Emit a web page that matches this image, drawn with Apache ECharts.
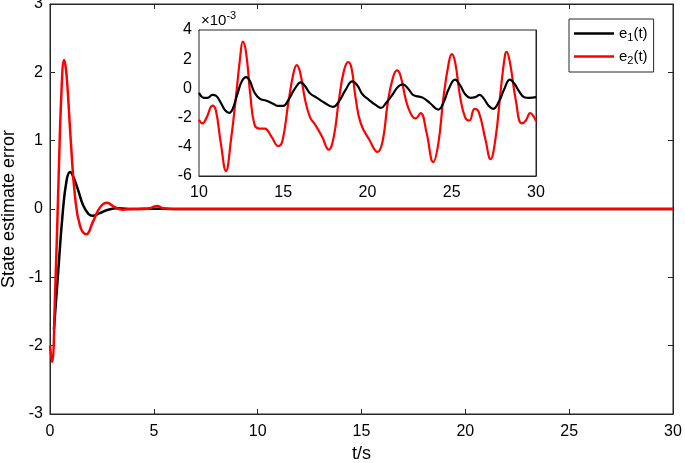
<!DOCTYPE html>
<html>
<head>
<meta charset="utf-8">
<script src="https://cdn.jsdelivr.net/npm/echarts@6/dist/echarts.min.js"></script>
<style>html,body{margin:0;padding:0;background:#fff}#c{width:685px;height:463px}</style>
</head>
<body>
<div id="c"></div>
<script>
// Main plot data
var mainT1 = [0.19,0.4,0.6,0.8,0.97,1.15,1.35,1.6,1.85,2.05,2.4,2.8,3.3,4.0,5.0,6.0,10,15,20,25,30];
var mainE1 = [-1.76,-0.9,-0.1,0.42,0.54,0.45,0.28,0.05,-0.07,-0.1,-0.06,-0.01,0.01,0,0.005,0,0,0,0,0,0];
var mainT2 = [0,0.1,0.25,0.4,0.55,0.68,0.8,1.0,1.2,1.45,1.75,2.05,2.4,2.75,3.1,3.5,4.0,4.6,4.9,5.15,5.45,6.0,10,15,20,25,30];
var mainE2 = [-2.0,-2.24,-1.2,0.3,1.7,2.18,1.95,1.0,0.2,-0.25,-0.37,-0.2,0.02,0.09,0.03,-0.01,0,0,0.02,0.045,0.01,0,0,0,0,0,0];
// Inset data (x10^-3)
var insetT1 = [10.0,10.3,10.5,10.8,11.0,11.3,11.55,11.8,12.0,12.3,12.55,12.8,13.0,13.3,13.6,14.0,14.4,14.7,15.0,15.3,15.7,16.05,16.3,16.6,17.0,17.4,17.95,18.3,18.7,19.1,19.4,19.7,20.1,20.5,20.8,21.1,21.5,21.8,22.1,22.4,22.7,23.0,23.3,23.7,24.2,24.5,24.8,25.2,25.5,25.8,26.1,26.4,26.65,26.9,27.2,27.45,27.8,28.1,28.45,28.7,29.0,29.3,29.6,30.0];
var insetE1 = [-0.3,-0.65,-0.65,-0.45,-0.5,-1.0,-1.5,-1.68,-1.4,-0.3,0.5,0.77,0.55,-0.3,-0.7,-0.85,-1.05,-1.2,-1.2,-0.8,0.0,0.41,0.15,-0.35,-0.65,-0.95,-1.27,-0.9,-0.1,0.48,0.2,-0.4,-0.8,-1.15,-1.34,-1.0,-0.4,0.1,0.27,0.0,-0.45,-0.55,-0.65,-1.0,-1.45,-1.0,-0.1,0.6,0.2,-0.4,-0.65,-0.6,-0.45,-0.7,-1.2,-1.4,-0.9,-0.1,0.6,0.35,-0.2,-0.6,-0.65,-0.6];
var insetT2 = [10.0,10.2,10.45,10.8,11.0,11.3,11.6,11.9,12.2,12.45,12.6,12.8,13.05,13.3,13.6,13.9,14.3,14.7,14.95,15.3,15.6,15.8,16.0,16.3,16.6,16.9,17.3,17.7,18.0,18.3,18.6,18.85,19.05,19.3,19.6,20.1,20.6,20.9,21.2,21.5,21.75,21.95,22.3,22.6,22.85,23.15,23.5,23.9,24.2,24.5,24.8,25.0,25.2,25.5,25.8,26.05,26.35,26.6,27.0,27.3,27.6,27.9,28.15,28.25,28.45,28.8,29.15,29.4,29.65,29.85,30.0];
var insetE2 = [-2.14,-2.4,-2.0,-1.18,-1.5,-3.8,-5.66,-3.5,-0.5,2.2,3.2,2.4,-0.5,-2.5,-2.75,-2.75,-3.3,-3.95,-3.6,-1.0,1.0,1.6,1.1,-0.8,-2.0,-2.5,-3.3,-4.2,-3.3,-0.8,1.2,1.8,1.4,-0.7,-2.4,-3.5,-4.35,-3.6,-1.0,0.7,1.23,0.9,-0.9,-1.8,-2.05,-1.7,-3.0,-5.05,-3.8,-0.7,1.6,2.35,1.8,-0.6,-2.0,-2.2,-1.4,-1.6,-3.5,-4.85,-3.4,-0.2,2.2,2.5,1.8,-0.8,-2.4,-2.2,-1.7,-1.9,-2.25];
var mainXTicks = [0,5,10,15,20,25,30];
var mainYTicks = [-3,-2,-1,0,1,2,3];
var seriesNames = ['e1','e2'];

function zip(a,b){return a.map(function(v,i){return [v,b[i]];});}

var AX = '#262626';
var FONT = 'Liberation Sans';
var TICKFS = 16;
function axisBase(extra){
  var o = {
    axisLine:{show:true,onZero:false,lineStyle:{color:AX,width:1}},
    axisTick:{show:true,inside:true,length:5,lineStyle:{color:AX}},
    axisLabel:{show:true,color:'#000',fontSize:TICKFS,fontFamily:FONT},
    splitLine:{show:false}
  };
  for (var k in extra) o[k]=extra[k];
  return o;
}
var chart = echarts.init(document.getElementById('c'),null,{renderer:'canvas'});
var option = {
  backgroundColor:'#fff',
  animation:false,
  grid:[
    {left:50,top:4,width:623,height:410,show:true,borderColor:AX,borderWidth:1,outerBoundsMode:'none'},
    {left:199,top:30,width:337,height:146,show:true,backgroundColor:'#fff',borderColor:AX,borderWidth:1,z:5,outerBoundsMode:'none'}
  ],
  xAxis:[
    axisBase({type:'value',gridIndex:0,min:mainXTicks[0],max:mainXTicks[mainXTicks.length-1],interval:5,position:'bottom',
      axisLabel:{color:'#000',fontSize:TICKFS,fontFamily:FONT,margin:10},
      name:'t/s',nameLocation:'middle',nameGap:27,nameTextStyle:{color:'#000',fontSize:18,fontFamily:FONT}}),
    axisBase({type:'value',gridIndex:0,min:0,max:30,interval:5,position:'top',axisLabel:{show:false}}),
    axisBase({type:'value',gridIndex:1,min:10,max:30,interval:5,position:'bottom',
      axisLabel:{color:'#000',fontSize:TICKFS,fontFamily:FONT,margin:9}}),
    axisBase({type:'value',gridIndex:1,min:10,max:30,interval:5,position:'top',axisLabel:{show:false}})
  ],
  yAxis:[
    axisBase({type:'value',gridIndex:0,min:mainYTicks[0],max:mainYTicks[mainYTicks.length-1],interval:1,position:'left',
      axisLabel:{color:'#000',fontSize:TICKFS,fontFamily:FONT,margin:7},
      name:'State estimate error',nameLocation:'middle',nameGap:26,nameTextStyle:{color:'#000',fontSize:18,fontFamily:FONT}}),
    axisBase({type:'value',gridIndex:0,min:-3,max:3,interval:1,position:'right',axisLabel:{show:false}}),
    axisBase({type:'value',gridIndex:1,min:-6,max:4,interval:2,position:'left',
      axisLabel:{color:'#000',fontSize:TICKFS,fontFamily:FONT,margin:7}}),
    axisBase({type:'value',gridIndex:1,min:-6,max:4,interval:2,position:'right',axisLabel:{show:false}})
  ],
  legend:{
    data:seriesNames,
    orient:'vertical',
    left:569, top:19,
    width:80,
    padding:[7,6,6,5],
    itemGap:6,
    itemWidth:40, itemHeight:2.5,
    icon:'rect',
    borderColor:AX, borderWidth:1,
    backgroundColor:'#fff',
    textStyle:{color:'#000',fontSize:15,fontFamily:FONT,
      rich:{b:{fontSize:15,fontFamily:FONT,color:'#000'},s:{fontSize:11,fontFamily:FONT,color:'#000',padding:[8,0,0,0]}}},
    formatter:function(n){return '{b|e}{s|'+n.slice(1)+'}{b|(t)}';}
  },
  graphic:[
    {type:'text',left:201,top:10,z:20,style:{
      text:'{a|×10}{b|-3}',
      rich:{a:{fontSize:15,fontFamily:FONT,fill:'#000',padding:[6,0,0,0]},b:{fontSize:11,fontFamily:FONT,fill:'#000',padding:[0,0,4,0]}}
    }}
  ],
  series:[
    {name:'e1',type:'line',xAxisIndex:0,yAxisIndex:0,data:zip(mainT1,mainE1),showSymbol:false,smooth:0.45,lineStyle:{color:'#000',width:2.5},itemStyle:{color:'#000'},z:3},
    {name:'e2',type:'line',xAxisIndex:0,yAxisIndex:0,data:zip(mainT2,mainE2),showSymbol:false,smooth:0.45,lineStyle:{color:'#ff0000',width:2.5},itemStyle:{color:'#ff0000'},z:4},
    {name:'e1',type:'line',xAxisIndex:2,yAxisIndex:2,data:zip(insetT1,insetE1),showSymbol:false,smooth:0.45,lineStyle:{color:'#000',width:2.2},itemStyle:{color:'#000'},z:7},
    {name:'e2',type:'line',xAxisIndex:2,yAxisIndex:2,data:zip(insetT2,insetE2),showSymbol:false,smooth:0.45,lineStyle:{color:'#ff0000',width:2.2},itemStyle:{color:'#ff0000'},z:6}
  ]
};
chart.setOption(option);
</script>
</body>
</html>
